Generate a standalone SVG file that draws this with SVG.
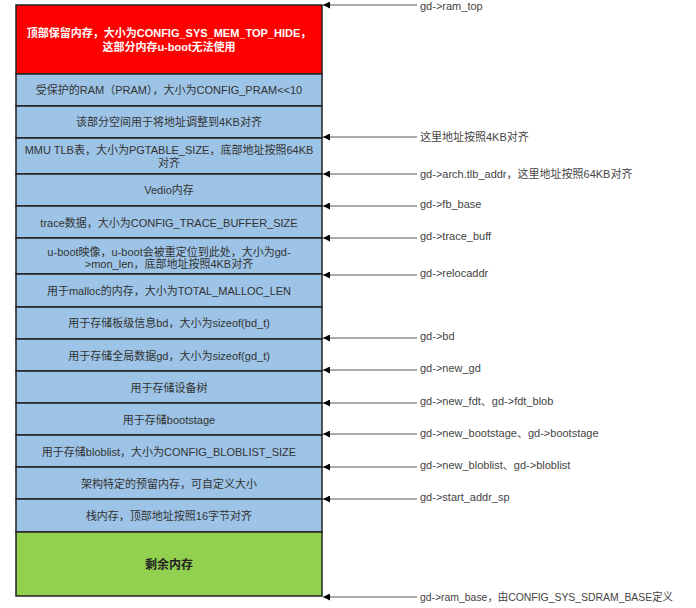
<svg xmlns="http://www.w3.org/2000/svg" width="696" height="608" viewBox="0 0 696 608">
<defs>
<marker id="ah" viewBox="0 0 10 10" refX="10" refY="5" markerWidth="7" markerHeight="7" markerUnits="userSpaceOnUse" orient="auto-start-reverse">
<path d="M0,0 L10,5 L0,10 z" fill="#000"/>
</marker>
<style>
.box{stroke:#222;stroke-width:1.5}
.blue{fill:#9DC3E6}
.red{fill:#FF0000}
.green{fill:#92D050}
.t{font-family:"Liberation Sans","Noto Sans CJK SC",sans-serif;font-size:11px;fill:#333;text-anchor:middle}
.tw{font-family:"Liberation Sans","Noto Sans CJK SC",sans-serif;font-size:11px;fill:#fff;font-weight:bold;text-anchor:middle}
.tg{font-family:"Liberation Sans","Noto Sans CJK SC",sans-serif;font-size:12px;fill:#222;font-weight:bold;text-anchor:middle}
.lbl{font-family:"Liberation Sans","Noto Sans CJK SC",sans-serif;font-size:11px;fill:#444}
.c{stroke:#555;stroke-width:1;fill:none}
</style>
</defs>
<rect width="696" height="608" fill="#fff"/>
<g id="n1"><rect class="box red" x="16" y="5" width="306" height="69"/><text class="tw" x="169" y="37">顶部保留内存，大小为CONFIG_SYS_MEM_TOP_HIDE，</text><text class="tw" x="169" y="51">这部分内存u-boot无法使用</text></g>
<g id="n2"><rect class="box blue" x="16" y="74" width="306" height="32"/><text class="t" x="169" y="94">受保护的RAM（PRAM），大小为CONFIG_PRAM&lt;&lt;10</text></g>
<g id="n3"><rect class="box blue" x="16" y="106" width="306" height="32"/><text class="t" x="169" y="126">该部分空间用于将地址调整到4KB对齐</text></g>
<g id="n4"><rect class="box blue" x="16" y="138" width="306" height="36"/><text class="t" x="169" y="154">MMU TLB表，大小为PGTABLE_SIZE，底部地址按照64KB</text><text class="t" x="169" y="167">对齐</text></g>
<g id="n5"><rect class="box blue" x="16" y="174" width="306" height="32"/><text class="t" x="169" y="194">Vedio内存</text></g>
<g id="n6"><rect class="box blue" x="16" y="206" width="306" height="32"/><text class="t" x="169" y="227">trace数据，大小为CONFIG_TRACE_BUFFER_SIZE</text></g>
<g id="n7"><rect class="box blue" x="16" y="238" width="306" height="36"/><text class="t" x="169" y="256">u-boot映像，u-boot会被重定位到此处，大小为gd-</text><text class="t" x="169" y="268">&gt;mon_len，底部地址按照4KB对齐</text></g>
<g id="n8"><rect class="box blue" x="16" y="274" width="306" height="33"/><text class="t" x="169" y="295">用于malloc的内存，大小为TOTAL_MALLOC_LEN</text></g>
<g id="n9"><rect class="box blue" x="16" y="307" width="306" height="32"/><text class="t" x="169" y="327">用于存储板级信息bd，大小为sizeof(bd_t)</text></g>
<g id="n10"><rect class="box blue" x="16" y="339" width="306" height="32"/><text class="t" x="169" y="360">用于存储全局数据gd，大小为sizeof(gd_t)</text></g>
<g id="n11"><rect class="box blue" x="16" y="371" width="306" height="32"/><text class="t" x="169" y="392">用于存储设备树</text></g>
<g id="n12"><rect class="box blue" x="16" y="403" width="306" height="32"/><text class="t" x="169" y="424">用于存储bootstage</text></g>
<g id="n13"><rect class="box blue" x="16" y="435" width="306" height="32"/><text class="t" x="169" y="456">用于存储bloblist，大小为CONFIG_BLOBLIST_SIZE</text></g>
<g id="n14"><rect class="box blue" x="16" y="467" width="306" height="32"/><text class="t" x="169" y="488">架构特定的预留内存，可自定义大小</text></g>
<g id="n15"><rect class="box blue" x="16" y="499" width="306" height="33"/><text class="t" x="169" y="520">栈内存，顶部地址按照16字节对齐</text></g>
<g id="n16"><rect class="box green" x="16" y="532" width="306" height="64"/><text class="tg" x="169" y="569">剩余内存</text></g>
<g id="connectors">
<line class="c" x1="417" y1="5" x2="323" y2="5" marker-end="url(#ah)"/>
<line class="c" x1="417" y1="137" x2="323" y2="137" marker-end="url(#ah)"/>
<line class="c" x1="417" y1="174" x2="323" y2="174" marker-end="url(#ah)"/>
<line class="c" x1="417" y1="206" x2="323" y2="206" marker-end="url(#ah)"/>
<line class="c" x1="417" y1="238" x2="323" y2="238" marker-end="url(#ah)"/>
<line class="c" x1="417" y1="275" x2="323" y2="275" marker-end="url(#ah)"/>
<line class="c" x1="417" y1="338" x2="323" y2="338" marker-end="url(#ah)"/>
<line class="c" x1="417" y1="370" x2="323" y2="370" marker-end="url(#ah)"/>
<line class="c" x1="417" y1="403" x2="323" y2="403" marker-end="url(#ah)"/>
<line class="c" x1="417" y1="434" x2="323" y2="434" marker-end="url(#ah)"/>
<line class="c" x1="417" y1="467" x2="323" y2="467" marker-end="url(#ah)"/>
<line class="c" x1="417" y1="499" x2="323" y2="499" marker-end="url(#ah)"/>
<line class="c" x1="417" y1="597" x2="323" y2="597" marker-end="url(#ah)"/>
</g>
<g id="labels">
<text class="lbl" x="420" y="10">gd-&gt;ram_top</text>
<text class="lbl" x="420" y="141">这里地址按照4KB对齐</text>
<text class="lbl" x="420" y="178">gd-&gt;arch.tlb_addr，这里地址按照64KB对齐</text>
<text class="lbl" x="420" y="208">gd-&gt;fb_base</text>
<text class="lbl" x="420" y="240">gd-&gt;trace_buff</text>
<text class="lbl" x="420" y="277">gd-&gt;relocaddr</text>
<text class="lbl" x="420" y="340">gd-&gt;bd</text>
<text class="lbl" x="420" y="372">gd-&gt;new_gd</text>
<text class="lbl" x="420" y="405">gd-&gt;new_fdt、gd-&gt;fdt_blob</text>
<text class="lbl" x="420" y="437">gd-&gt;new_bootstage、gd-&gt;bootstage</text>
<text class="lbl" x="420" y="469">gd-&gt;new_bloblist、gd-&gt;bloblist</text>
<text class="lbl" x="420" y="501">gd-&gt;start_addr_sp</text>
<text class="lbl" x="420" y="601" textLength="253" lengthAdjust="spacingAndGlyphs">gd-&gt;ram_base，由CONFIG_SYS_SDRAM_BASE定义</text>
</g>
</svg>
